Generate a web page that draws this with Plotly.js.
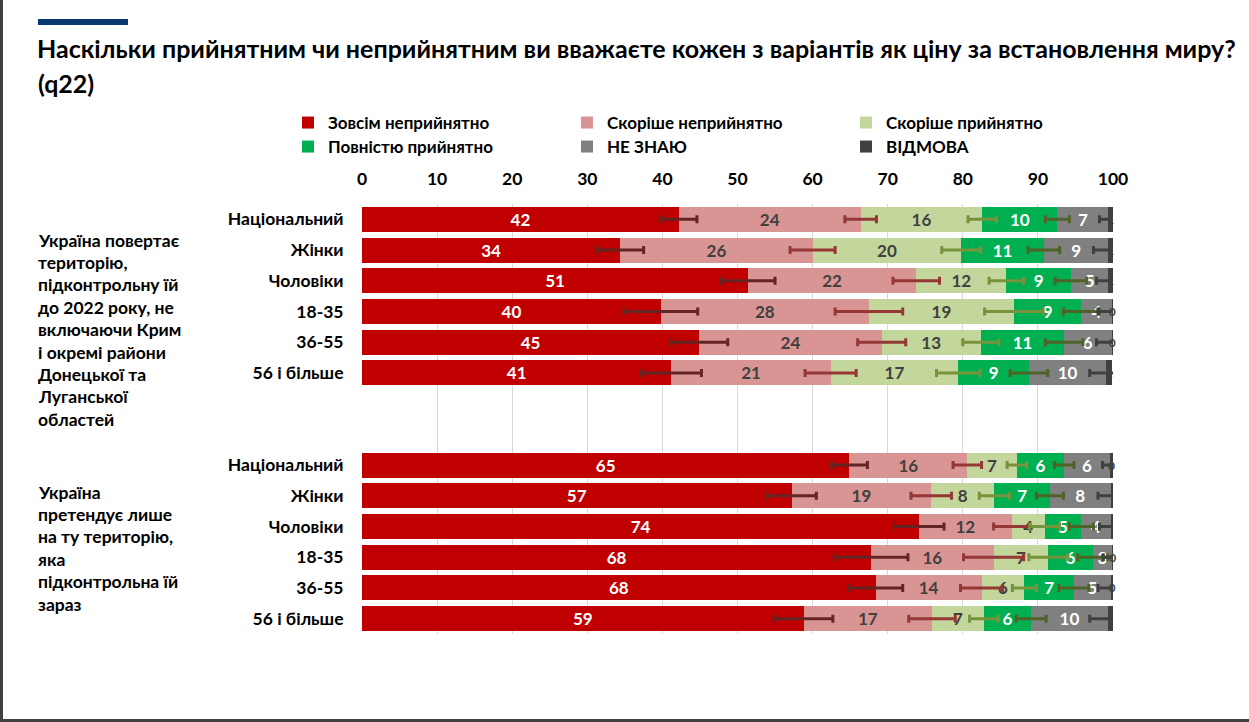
<!DOCTYPE html>
<html>
<head>
<meta charset="utf-8">
<script src="https://cdn.plot.ly/plotly-3.0.1.min.js"></script>
<style>
html,body{margin:0;padding:0;background:#fff;}
#chart{width:1249px;height:722px;}
</style>
</head>
<body>
<div id="chart"></div>
<script>
// ---------------- DATA ----------------
const groupA = ['Національний', 'Жінки', 'Чоловіки', '18-35', '36-55', '56 і більше'];
const groupB = ['Національний', 'Жінки', 'Чоловіки', '18-35', '36-55', '56 і більше'];

const groupALabel = ['Україна повертає', 'територію,', 'підконтрольну їй', 'до 2022 року, не', 'включаючи Крим', 'і окремі райони', 'Донецької та', 'Луганської', 'областей'];
const groupBLabel = ['Україна', 'претендує лише', 'на ту територію,', 'яка', 'підконтрольна їй', 'зараз'];

const seriesNames = ['Зовсім неприйнятно', 'Скоріше неприйнятно', 'Скоріше прийнятно', 'Повністю прийнятно', 'НЕ ЗНАЮ', 'ВІДМОВА'];

// values (%) : group A then group B
const totallyUnacceptableA = [42.2, 34.4, 51.4, 39.8, 44.9, 41.2];
const totallyUnacceptableB = [64.9, 57.2, 74.2, 67.8, 68.4, 58.8];
const ratherUnacceptableA  = [24.2, 25.6, 22.4, 27.7, 24.3, 21.2];
const ratherUnacceptableB  = [15.7, 18.6, 12.3, 16.3, 14.1, 17.1];
const ratherAcceptableA    = [16.2, 19.8, 12.0, 19.3, 13.2, 17.0];
const ratherAcceptableB    = [6.6, 8.4, 4.4, 7.3, 5.7, 6.9];
const fullyAcceptableA     = [10.0, 11.0, 8.6, 9.0, 11.1, 9.4];
const fullyAcceptableB     = [6.3, 7.4, 4.9, 5.9, 6.6, 6.3];
const dontKnowA            = [6.8, 8.6, 5.0, 4.0, 6.3, 10.3];
const dontKnowB            = [6.1, 8.1, 3.9, 2.6, 4.9, 10.2];
const refusedA             = [0.6, 0.6, 0.6, 0.2, 0.2, 0.8];
const refusedB             = [0.4, 0.3, 0.3, 0.1, 0.3, 0.7];

// error margins (±)
const errTotallyUnaccA = [2.4, 3.1, 3.6, 4.9, 3.8, 4.0];
const errTotallyUnaccB = [2.4, 3.3, 3.3, 4.9, 3.6, 3.9];
const errRatherUnaccA  = [2.1, 3.0, 3.1, 4.5, 3.2, 3.4];
const errRatherUnaccB  = [1.9, 2.7, 2.4, 4.0, 2.8, 3.1];
const errRatherAccA    = [1.9, 2.6, 2.3, 3.9, 2.4, 2.9];
const errRatherAccB    = [1.3, 2.0, 2.0, 2.6, 1.6, 1.9];
const errFullyAccA     = [1.6, 2.1, 2.1, 2.4, 2.5, 2.5];
const errFullyAccB     = [1.3, 1.8, 1.6, 2.0, 2.0, 2.0];
const errDontKnowA     = [1.2, 2.0, 1.6, 1.8, 2.0, 2.2];
const errDontKnowB     = [1.0, 1.7, 1.5, 1.2, 1.7, 2.4];

// ---------------- STYLE ----------------
const FONT = 'Lato, "Open Sans", "Noto Sans", sans-serif';
const barColors  = ['#C00000', '#D99594', '#C3D69B', '#00B050', '#808080', '#404040'];
const textColors = ['#FFFFFF', '#404040', '#404040', '#FFFFFF', '#FFFFFF', '#404040'];
const errColors  = ['#632523', '#953735', '#77933C', '#4F6228', '#404040', '#404040'];
const textSizes  = [17, 17, 17, 17, 17, 12];
const legendOf   = ['legend', 'legend', 'legend', 'legend2', 'legend2', 'legend2'];

const seriesA = [totallyUnacceptableA, ratherUnacceptableA, ratherAcceptableA, fullyAcceptableA, dontKnowA, refusedA];
const seriesB = [totallyUnacceptableB, ratherUnacceptableB, ratherAcceptableB, fullyAcceptableB, dontKnowB, refusedB];
const errA = [errTotallyUnaccA, errRatherUnaccA, errRatherAccA, errFullyAccA, errDontKnowA, null];
const errB = [errTotallyUnaccB, errRatherUnaccB, errRatherAccB, errFullyAccB, errDontKnowB, null];

// category slots: group A rows, two empty slots, group B rows
const gapSlots = 2;
const posA = groupA.map((_, i) => i);
const posB = groupB.map((_, i) => groupA.length + gapSlots + i);
const tickVals = posA.concat(posB);
const tickText = groupA.concat(groupB);

const allSeries = seriesNames.map((_, k) => seriesA[k].concat(seriesB[k]));

const barTraces = seriesNames.map((name, k) => ({
  type: 'bar',
  orientation: 'h',
  name: name,
  legend: legendOf[k],
  x: allSeries[k],
  y: tickVals,
  marker: {color: barColors[k], line: {width: 0}},
  texttemplate: '%{x:.0f}',
  textposition: 'inside',
  insidetextanchor: 'middle',
  constraintext: 'none',
  textangle: 0,
  cliponaxis: k === seriesNames.length - 1 ? false : true,
  textfont: {family: FONT, size: textSizes[k], color: textColors[k], weight: 'bold'},
  hoverinfo: 'name+x'
}));

// error bars drawn on top, at the end of each stacked segment
const errTraces = [];
seriesNames.forEach((name, k) => {
  if (!errA[k]) return;
  const ends = tickVals.map((_, i) => {
    let s = 0;
    for (let j = 0; j <= k; j++) s += allSeries[j][i];
    return s;
  });
  errTraces.push({
    type: 'scatter', mode: 'markers', x: ends, y: tickVals,
    marker: {size: 1, opacity: 0},
    error_x: {type: 'data', array: errA[k].concat(errB[k]), color: errColors[k], thickness: 3, width: 4, visible: true},
    showlegend: false, hoverinfo: 'skip'
  });
});

// ---------------- LAYOUT ----------------
const W = 1249, H = 722;
const M = {l: 362, r: 136, t: 204, b: 88};
const PW = W - M.l - M.r, PH = H - M.t - M.b;
const xp = px => (px - M.l) / PW;
const yp = py => (H - M.b - py) / PH;

const annotations = [];
annotations.push({
  text: '(q22)', xref: 'paper', yref: 'paper', x: xp(36), y: yp(83),
  xanchor: 'left', yanchor: 'middle', showarrow: false,
  font: {family: FONT, size: 25, color: '#000000', weight: 'bold'}
});
groupALabel.forEach((line, i) => annotations.push({
  text: line, xref: 'paper', yref: 'paper', x: xp(36), y: yp(240 + i * 22.4),
  xanchor: 'left', yanchor: 'middle', showarrow: false,
  font: {family: FONT, size: 17.5, color: '#000000', weight: 'bold'}
}));
groupBLabel.forEach((line, i) => annotations.push({
  text: line, xref: 'paper', yref: 'paper', x: xp(36), y: yp(492 + i * 22.4),
  xanchor: 'left', yanchor: 'middle', showarrow: false,
  font: {family: FONT, size: 17.5, color: '#000000', weight: 'bold'}
}));

const shapes = [
  {type: 'rect', xref: 'paper', yref: 'paper', x0: xp(38), x1: xp(128), y0: yp(25), y1: yp(19),
   fillcolor: '#0B3A73', line: {width: 0}, layer: 'above'},
  {type: 'rect', xref: 'paper', yref: 'paper', x0: xp(0), x1: xp(3), y0: yp(722), y1: yp(0),
   fillcolor: '#404040', line: {width: 0}},
  {type: 'rect', xref: 'paper', yref: 'paper', x0: xp(0), x1: xp(1249), y0: yp(722), y1: yp(719),
   fillcolor: '#404040', line: {width: 0}}
];

const legendBase = {
  orientation: 'h', xanchor: 'left', yanchor: 'top',
  xref: 'paper', yref: 'paper',
  entrywidth: 234, entrywidthmode: 'pixels',
  traceorder: 'normal',
  font: {family: FONT, size: 17, color: '#000000', weight: 'bold'},
  bgcolor: 'rgba(0,0,0,0)'
};

const layout = {
  width: W, height: H,
  margin: M,
  paper_bgcolor: '#FFFFFF', plot_bgcolor: '#FFFFFF',
  barmode: 'stack',
  bargap: 0.19,
  font: {family: FONT, color: '#000000'},
  title: {
    text: 'Наскільки прийнятним чи неприйнятним ви вважаєте кожен з варіантів як ціну за встановлення миру?',
    xref: 'container', yref: 'container', x: 37 / W, y: 1 - 49 / H,
    xanchor: 'left', yanchor: 'middle',
    font: {family: FONT, size: 25, color: '#000000', weight: 'bold'}
  },
  xaxis: {
    side: 'top', range: [0, 100], tick0: 0, dtick: 10,
    showgrid: true, gridcolor: '#D9D9D9', gridwidth: 1, zeroline: false,
    showline: false, ticks: 'outside', ticklen: 11, tickcolor: 'rgba(0,0,0,0)',
    tickfont: {family: FONT, size: 17.5, color: '#000000', weight: 'bold'},
    fixedrange: true
  },
  yaxis: {
    range: [tickVals[tickVals.length - 1] + 0.5, -0.5],
    tickmode: 'array', tickvals: tickVals, ticktext: tickText,
    showgrid: false, zeroline: false, showline: false,
    ticks: 'outside', ticklen: 14, tickcolor: 'rgba(0,0,0,0)',
    tickfont: {family: FONT, size: 17.5, color: '#000000', weight: 'bold'},
    fixedrange: true
  },
  showlegend: true,
  legend: Object.assign({}, legendBase, {x: xp(288), y: yp(105)}),
  legend2: Object.assign({}, legendBase, {x: xp(288), y: yp(129)}),
  annotations: annotations,
  shapes: shapes
};

Plotly.newPlot('chart', barTraces.concat(errTraces), layout, {displayModeBar: false, staticPlot: true});
</script>
</body>
</html>
